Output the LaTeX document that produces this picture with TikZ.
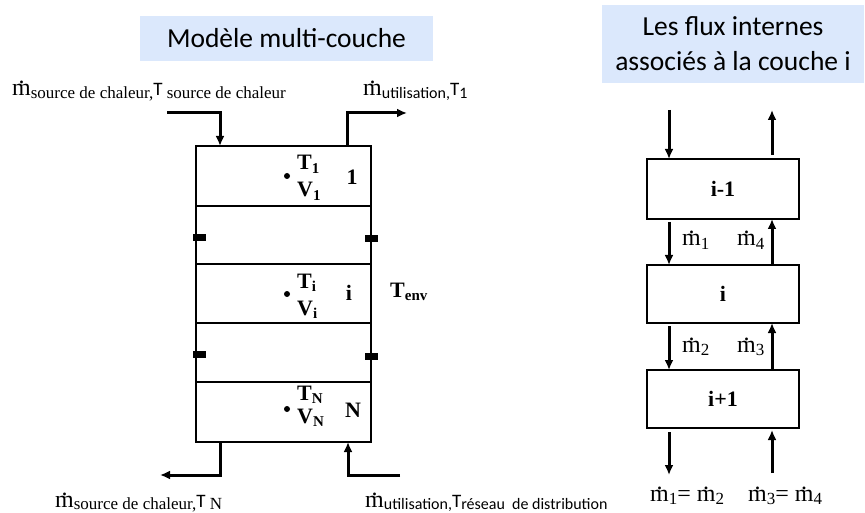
\documentclass[tikz,border=0pt]{standalone}
\usepackage{fontspec}
\setmainfont{Liberation Serif}
\newfontfamily\calfont{Carlito}
\usetikzlibrary{arrows.meta,calc}
\definecolor{titlebg}{RGB}{219,232,252}
\newcommand\md{{\ooalign{m\cr\hidewidth\raisebox{0.5em}{.}\hidewidth\cr}}}
\newcommand\sbs[1]{\raisebox{-2.5pt}{\fontsize{17}{17}\selectfont #1}}
\newcommand\sbc[1]{\raisebox{-2.5pt}{\fontsize{16}{16}\selectfont\calfont #1}}
\newcommand\sbb[1]{\raisebox{-3.5pt}{\fontsize{15}{15}\selectfont #1}}
\newcommand\sbm[1]{\raisebox{-3.5pt}{\fontsize{17}{17}\selectfont #1}}
\newcommand\Tc{{\fontsize{19}{19}\selectfont\calfont T}}
\begin{document}
\begin{tikzpicture}[x=1pt,y=-1pt,
  titlebox/.style={fill=titlebg, inner sep=0pt, outer sep=0pt, align=center,
     font=\calfont\fontsize{27.5}{35}\selectfont},
  layer/.style={draw, line width=2pt, minimum width=175pt, inner sep=0pt, outer sep=0pt},
  rbox/.style={draw, line width=2pt, minimum width=152pt, minimum height=59pt, inner sep=0pt, outer sep=0pt,
     font=\fontsize{22}{22}\selectfont\bfseries},
  valve/.style={fill=black, minimum width=13pt, minimum height=7pt, inner sep=0pt, outer sep=0pt},
  dotn/.style={circle, fill=black, minimum size=6pt, inner sep=0pt},
  blab/.style={inner sep=0pt, anchor=base west, font=\fontsize{22}{22}\selectfont\bfseries},
  blabc/.style={inner sep=0pt, anchor=base, font=\fontsize{22}{22}\selectfont\bfseries},
  mlab/.style={inner sep=0pt, anchor=base west, font=\fontsize{24}{24}\selectfont},
  arr/.style={line width=3pt, -{Latex[length=10pt,width=9pt]}}
]
\useasboundingbox (0,0) rectangle (865,513);

% titles
\node[titlebox, minimum width=293pt, minimum height=45pt] (t1) at (286.5,38.5) {Modèle multi-couche};
\node[titlebox, minimum width=262pt, minimum height=78pt] (t2) at (733,44) {Les flux internes\\associés à la couche i};

% left stack
\node[layer, minimum height=60pt] (L1) at (283.5,176) {};
\node[layer, minimum height=58pt] (G1) at (283.5,235) {};
\node[layer, minimum height=59pt] (Li) at (283.5,293.5) {};
\node[layer, minimum height=59pt] (G2) at (283.5,352.5) {};
\node[layer, minimum height=60pt] (LN) at (283.5,412) {};

\node[valve] (v1) at (199,238) {};
\node[valve] (v2) at (371.5,239) {};
\node[valve] (v3) at (199,354) {};
\node[valve] (v4) at (371.5,356) {};

% layer contents
\node[dotn] (d1) at (287,176) {};
\node[blab] (T1) at (297,170) {T\sbb{1}};
\node[blab] (V1) at (297,197) {V\sbb{1}};
\node[blabc] (n1) at (352,185) {1};

\node[dotn] (di) at (287,294) {};
\node[blab] (Ti) at (297,288) {T\sbb{i}};
\node[blab] (Vi) at (297,315) {V\sbb{i}};
\node[blabc] (ni) at (349,300) {i};

\node[dotn] (dN) at (287,409) {};
\node[blab] (TN) at (297,400) {T\sbb{N}};
\node[blab] (VN) at (297,423) {V\sbb{N}};
\node[blabc] (nN) at (353,417) {N};

\node[blab] (Tenv) at (390,297) {T\raisebox{-4pt}{\fontsize{15}{15}\selectfont env}};

% left connectors
\coordinate (inS) at (167,113);
\draw[arr] (inS) -| ($(L1.north west)+(24,0)$);
\coordinate (outE) at (407,113);
\draw[arr] ($(L1.north east)+(-24,0)$) |- (outE);
\coordinate (botW) at (160,475);
\draw[arr] ($(LN.south west)+(24,0)$) |- (botW);
\coordinate (botE) at (400,475);
\draw[arr] (botE) -| ($(LN.south east)+(-23,0)$);

% left labels
\node[mlab] (lab1) at (12,96) {\md\sbs{source de chaleur,}\Tc\sbs{ source de chaleur}};
\node[mlab] (lab2) at (363,96) {\md\sbc{utilisation,}\Tc\sbc{1}};
\node[mlab] (lab3) at (55,507) {\md\sbs{source de chaleur,}\Tc\sbs{ N}};
\node[mlab] (lab4) at (365,507) {\md\sbc{utilisation,}\Tc\sbc{réseau\ \ de distribution}};

% right diagram
\node[rbox, minimum height=60pt] (A) at (723,189) {i-1};
\node[rbox, minimum height=58pt] (B) at (723,294) {i};
\node[rbox, minimum height=58pt] (C) at (723,399) {i+1};

\coordinate (a1) at (669,110);
\coordinate (a2) at (772,110);
\coordinate (a3) at (669,475);
\coordinate (a4) at (772,473);
\draw[arr] (a1) -- (A.north -| a1);
\draw[arr, shorten <=4pt] (A.north -| a2) -- (a2);
\draw[arr, shorten <=3pt] (A.south -| a1) -- (B.north -| a1);
\draw[arr] (B.north -| a2) -- (A.south -| a2);
\draw[arr, shorten <=3pt] (B.south -| a1) -- (C.north -| a1);
\draw[arr] (C.north -| a2) -- (B.south -| a2);
\draw[arr, shorten <=4pt] (C.south -| a1) -- (a3);
\draw[arr, shorten >=2pt] (a4) -- (C.south -| a2);

\node[mlab] (m1) at (682,246) {\md\sbm{1}};
\node[mlab] (m4) at (737,246) {\md\sbm{4}};
\node[mlab] (m2) at (682,352) {\md\sbm{2}};
\node[mlab] (m3) at (737,352) {\md\sbm{3}};
\node[mlab] (e1) at (650,501) {\md\sbm{1}= \md\sbm{2}};
\node[mlab] (e2) at (748,501) {\md\sbm{3}= \md\sbm{4}};
\end{tikzpicture}
\end{document}
